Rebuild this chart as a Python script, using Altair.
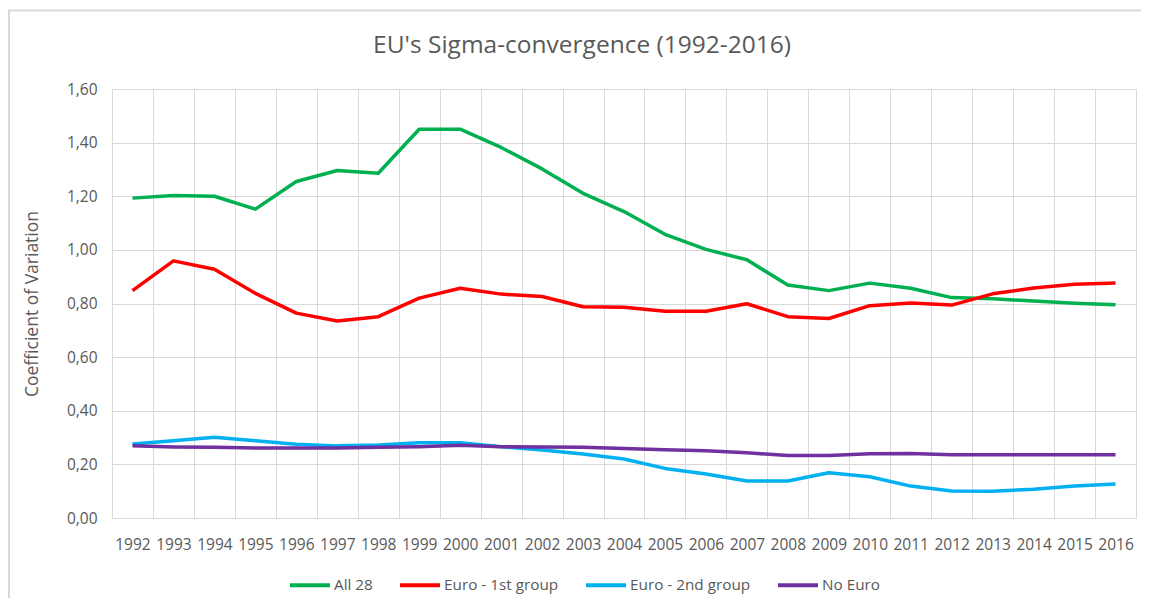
import altair as alt
import pandas as pd

years = [str(y) for y in range(1992, 2017)]
series_names = ["All 28", "Euro - 1st group", "Euro - 2nd group", "No Euro"]
colors = ["#00B050", "#FF0000", "#00B0F0", "#7030A0"]
title_text = "EU's Sigma-convergence (1992-2016)"

all28 = [1.193, 1.203, 1.200, 1.152, 1.255, 1.296, 1.286, 1.450, 1.450, 1.382,
         1.302, 1.211, 1.143, 1.058, 1.002, 0.963, 0.869, 0.848, 0.876, 0.857,
         0.822, 0.818, 0.809, 0.801, 0.795]
euro1 = [0.848, 0.959, 0.928, 0.838, 0.764, 0.735, 0.751, 0.820, 0.857, 0.835,
         0.826, 0.788, 0.786, 0.771, 0.771, 0.799, 0.751, 0.744, 0.792, 0.802,
         0.794, 0.836, 0.858, 0.872, 0.876]
euro2 = [0.276, 0.288, 0.301, 0.288, 0.275, 0.269, 0.272, 0.281, 0.281, 0.266,
         0.254, 0.239, 0.220, 0.185, 0.164, 0.138, 0.138, 0.169, 0.154, 0.119,
         0.101, 0.100, 0.107, 0.119, 0.127]
noeuro = [0.269, 0.265, 0.264, 0.261, 0.261, 0.261, 0.264, 0.266, 0.271, 0.266,
          0.265, 0.264, 0.259, 0.255, 0.251, 0.243, 0.233, 0.233, 0.240, 0.241,
          0.236, 0.236, 0.236, 0.236, 0.236]

rows = []
for name, vals in zip(series_names, [all28, euro1, euro2, noeuro]):
    for i, (yr, v) in enumerate(zip(years, vals)):
        rows.append({"Year": yr, "Value": v, "Series": name, "order": i})
df = pd.DataFrame(rows)

FONT = "Open Sans"
GRAY = "#595959"
GRID = "#d9d9d9"

lines = alt.Chart(df).mark_line(strokeWidth=3.5, interpolate="linear", strokeJoin="round").encode(
    x=alt.X("Year:O", sort=years,
            scale=alt.Scale(type="band", paddingInner=0, paddingOuter=0),
            axis=alt.Axis(title=None, labelAngle=0, tickBand="extent", ticks=False,
                          grid=True, gridColor=GRID, domainColor=GRID,
                          labelPadding=19, labelFontSize=15.5, labelColor=GRAY,
                          labelFont=FONT)),
    y=alt.Y("Value:Q", scale=alt.Scale(domain=[0, 1.6], nice=False),
            axis=alt.Axis(title="Coefficient of Variation", values=[0, 0.2, 0.4, 0.6, 0.8, 1.0, 1.2, 1.4, 1.6],
                          labelExpr="replace(format(datum.value, '.2f'), '.', ',')",
                          ticks=False, domain=False, gridColor=GRID,
                          labelPadding=15, labelFontSize=15.5, labelColor=GRAY, labelFont=FONT,
                          titleFontSize=17.5, titleColor=GRAY, titleFont=FONT,
                          titleFontWeight="normal", titlePadding=25)),
    color=alt.Color("Series:N", scale=alt.Scale(domain=series_names, range=colors),
                    legend=alt.Legend(title=None, orient="none", direction="horizontal",
                                      legendX=176, legendY=474,
                                      symbolType="stroke", symbolSize=1600,
                                      symbolStrokeWidth=4, labelOffset=2,
                                      columnPadding=19, labelFontSize=15.3,
                                      labelColor=GRAY, labelFont=FONT)),
    order="order:Q",
)

one = pd.DataFrame({"k": [0]})
border_top = alt.Chart(one).mark_rule(color=GRID, strokeWidth=2, clip=False).encode(
    x=alt.value(-104), x2=alt.value(1040), y=alt.value(-78.5)
)
border_left = alt.Chart(one).mark_rule(color=GRID, strokeWidth=2, clip=False).encode(
    x=alt.value(-103), y=alt.value(-79), y2=alt.value(520)
)
title = alt.Chart(pd.DataFrame({"t": [title_text]})).mark_text(
    font=FONT, fontSize=24.5, color=GRAY, align="center", baseline="middle", clip=False
).encode(text="t:N", x=alt.value(470), y=alt.value(-43))

chart = alt.layer(border_top, border_left, title, lines).properties(
    width=1024, height=429,
    padding={"left": 104, "top": 81, "right": 5, "bottom": 80},
    autosize=alt.AutoSizeParams(type="none"),
).configure_view(stroke=GRID).configure(background="white")

chart.save("out.html", embed_options={"renderer": "svg", "actions": False})
